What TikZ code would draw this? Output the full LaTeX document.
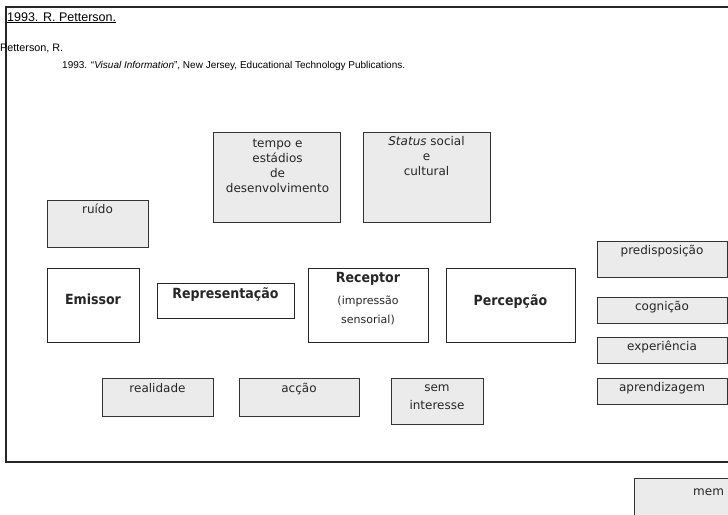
\documentclass[tikz,border=0pt]{standalone}
\usepackage{fontspec}
\setmainfont{Liberation Sans}
\newfontfamily\boxfont{DejaVu Sans}
\newfontfamily\labelfont[FakeStretch=0.9]{DejaVu Sans}
\begin{document}
\begin{tikzpicture}[x=1pt,y=-1pt,
  frame/.style={draw=black!85, line width=1.6pt},
  greybox/.style={draw=black!80, fill=black!8, line width=1.2pt, inner sep=0pt, anchor=north west},
  whitebox/.style={draw=black!85, fill=white, line width=1.2pt, inner sep=0pt, anchor=north west},
  boxtext/.style={font=\boxfont\fontsize{12}{15}\selectfont, inner sep=0pt, align=center, text=black!85},
  bigtext/.style={font=\labelfont\bfseries\fontsize{14}{16}\selectfont, inner sep=0pt, text=black!85},
  headtext/.style={font=\fontsize{10}{12}\selectfont, inner sep=0pt, text=black}]
\useasboundingbox (0,0) rectangle (728,514);
\clip (0,0) rectangle (728,514);
\fill[white] (0,0) rectangle (728,514);

% outer frame (runs past the right edge)
\draw[frame] (6,7) rectangle (770,462);

% reference header
\node[headtext, anchor=base west, font=\fontsize{12.5}{14}\selectfont] (title) at (7,21) {\underline{1993. R. Petterson.}};
\node[headtext, anchor=base west, font=\fontsize{10.8}{13}\selectfont] (author) at (0,51) {Petterson, R.};
\node[headtext, anchor=base west] (ref) at (62,68) {1993. ``\textit{Visual Information}'', New Jersey, Educational Technology Publications.};

% upper grey boxes
\node[greybox, minimum width=127pt, minimum height=90pt] (tempo) at (213,132) {};
\node[boxtext, anchor=north] (tempoT) at (277.5,138.5) {tempo e\\estádios\\de\\desenvolvimento};
\node[greybox, minimum width=127pt, minimum height=90pt] (status) at (363,132) {};
\node[boxtext, anchor=north] (statusT) at (426.5,136.5) {\textit{Status} social\\e\\cultural};
\node[greybox, minimum width=101pt, minimum height=47pt] (ruido) at (47,200) {};
\node[boxtext, anchor=mid] (ruidoT) at (97.5,211) {ruído};

% main chain
\node[whitebox, minimum width=92pt, minimum height=74pt] (emissor) at (47,268) {};
\node[bigtext, anchor=mid] (emissorT) at (93,302) {Emissor};
\node[whitebox, minimum width=137pt, minimum height=35pt] (repr) at (157,283) {};
\node[bigtext, anchor=mid] (reprT) at (225.5,296) {Representação};
\node[whitebox, minimum width=120pt, minimum height=74pt] (receptor) at (308,268) {};
\node[bigtext, anchor=mid] (receptorT) at (368,280) {Receptor};
\node[boxtext, anchor=north, font=\boxfont\fontsize{11}{19}\selectfont] (receptorS) at (368,295.5) {(impressão\\sensorial)};
\node[whitebox, minimum width=129pt, minimum height=74pt] (percepcao) at (446,268) {};
\node[bigtext, anchor=mid] (percepcaoT) at (510.5,303) {Percepção};

% right column
\node[greybox, minimum width=130pt, minimum height=36pt] (predisp) at (597,241) {};
\node[boxtext, anchor=mid] (predispT) at (662,252) {predisposição};
\node[greybox, minimum width=130pt, minimum height=26pt] (cognicao) at (597,297) {};
\node[boxtext, anchor=mid] (cognicaoT) at (662,308) {cognição};
\node[greybox, minimum width=130pt, minimum height=26pt] (experiencia) at (597,337) {};
\node[boxtext, anchor=mid] (experienciaT) at (662,348) {experiência};
\node[greybox, minimum width=130pt, minimum height=26pt] (aprend) at (597,378) {};
\node[boxtext, anchor=mid] (aprendT) at (662,389) {aprendizagem};

% lower row
\node[greybox, minimum width=111pt, minimum height=38pt] (realidade) at (102,378) {};
\node[boxtext, anchor=mid] (realidadeT) at (157.5,390) {realidade};
\node[greybox, minimum width=120pt, minimum height=38pt] (accao) at (239,378) {};
\node[boxtext, anchor=mid] (accaoT) at (299,390) {acção};
\node[greybox, minimum width=92pt, minimum height=46pt] (sem) at (391,378) {};
\node[boxtext, anchor=north, font=\boxfont\fontsize{12}{18}\selectfont] (semT) at (437,384.5) {sem\\interesse};

% box below the frame, running past the page edge
\node[greybox, minimum width=130pt, minimum height=60pt] (memoria) at (634,478) {};
\node[boxtext, anchor=mid west] (memoriaT) at (693,493) {mem};
\end{tikzpicture}
\end{document}
